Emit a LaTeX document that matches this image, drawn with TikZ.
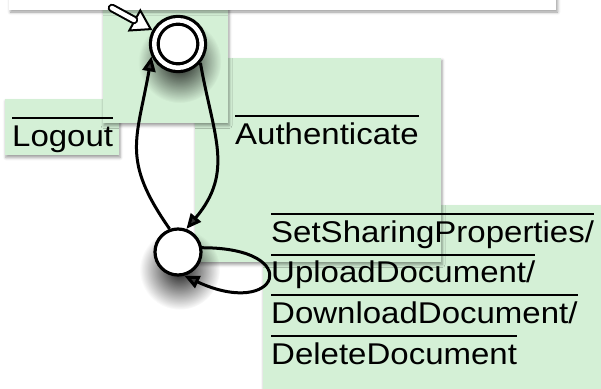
\documentclass[tikz,border=0pt]{standalone}
\usepackage{fontspec}
\setmainfont[FakeStretch=1.1]{Liberation Sans}
\usetikzlibrary{positioning, arrows.meta, shadows, shadows.blur, fadings}

\definecolor{notegreen}{RGB}{212,240,214}
\tikzfading[name=softshade, inner color=transparent!0, outer color=transparent!100]
\newlength\ovlwd
\newcommand{\ovl}[1]{\settowidth{\ovlwd}{#1}\rlap{\rule[27pt]{\ovlwd}{2pt}}#1}

\begin{document}
\begin{tikzpicture}[x=1pt, y=1pt]
  \tikzstyle{note} = [fill=notegreen, blur shadow={shadow xshift=1pt, shadow yshift=-2.5pt, shadow blur radius=3pt}]
  \tikzstyle{state} = [circle, draw, fill=white, line width=3.2pt, inner sep=0pt, minimum size=46pt, outer sep=1.6pt,
    circular drop shadow={shadow scale=1.75, shadow xshift=1pt, shadow yshift=-10pt, fill=black, opacity=0.9, path fading=softshade}]
  \tikzstyle{final} = [state, double, double distance=4.5pt, minimum size=47.5pt, outer sep=5.45pt]
  \tikzstyle{trans} = [line width=3pt, -{Triangle[length=15pt, width=13pt]}]
  \tikzstyle{lbl} = [anchor=base west, inner sep=0pt, font=\fontsize{30pt}{36pt}\selectfont]

  \useasboundingbox (0,0) rectangle (601,-388);
  \clip (0,0) rectangle (601,-388);

  % Note backgrounds
  \path[note] (263,-205) rectangle (615,-400);
  \path[note] (195,-58) rectangle (441,-262);
  \path[note] (5,-99) rectangle (119,-155);
  \path[note] (103,5) rectangle (228,-123);
  \path[fill=white, blur shadow={shadow xshift=1.5pt, shadow yshift=-2pt, shadow blur radius=3pt}] (9,20) rectangle (556,-10);

  % States
  \node[final] (q0) at (178,-44) {};
  \node[state] (q1) at (178,-252) {};

  % Initial arrow
  \coordinate (init) at (112,-8);
  \draw[line width=2pt, -{Triangle[length=21pt, width=26pt, fill=white, line width=2pt]}] (init) -- (q0);
  \draw[line width=2pt, double=white, double distance=4.5pt, line cap=round, shorten >=21pt] (init) -- (q0);

  % Transitions
  \draw[trans] (q0.-40) to[out=-80, in=50, looseness=1.15] (q1.70);
  \draw[trans] (q1.110) to[out=125, in=-100, looseness=1.25] (q0.205);
  \draw[trans] (q1.10) to[out=0, in=-25, looseness=8] (q1.-75);

  % Labels
  \node[lbl] (logout) at (12,-146) {\ovl{Logout}};
  \node[lbl] (auth) at (235,-144) {\ovl{Authenticate}};
  \foreach \txt [count=\i] in {SetSharingProperties/, UploadDocument/, DownloadDocument/, DeleteDocument}
    \node[lbl] (act\i) at (271, {-242-40.7*(\i-1)}) {\ovl{\txt}};

\end{tikzpicture}
\end{document}
